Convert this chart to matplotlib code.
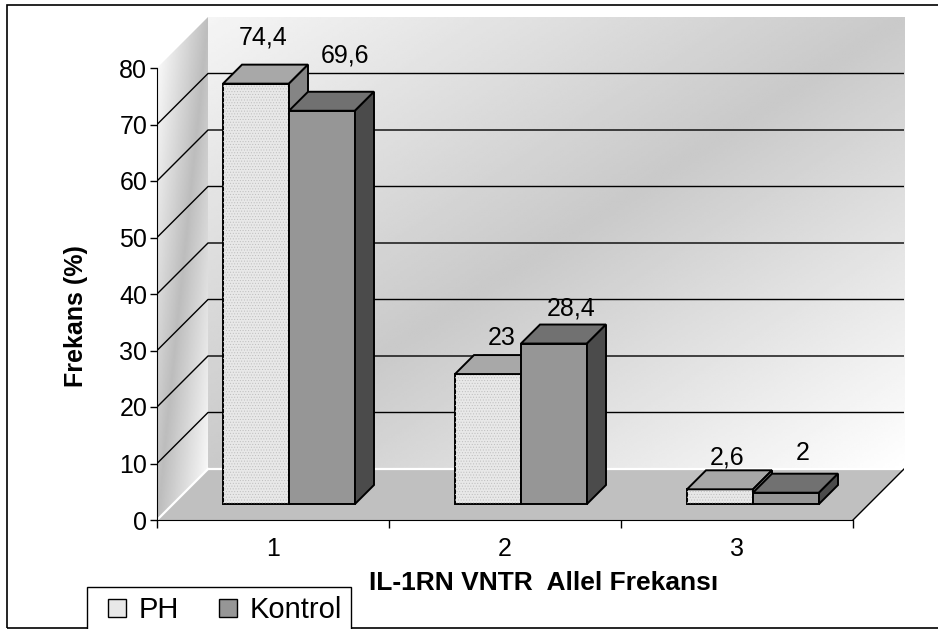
import matplotlib.pyplot as plt
import numpy as np
from matplotlib.patches import Polygon, Rectangle
from matplotlib.lines import Line2D

plt.rcParams['font.family'] = ['Liberation Sans', 'DejaVu Sans']
plt.rcParams['hatch.linewidth'] = 0.4

categories = ['1', '2', '3']
series_names = ['PH', 'Kontrol']
ph = [74.4, 23, 2.6]
kontrol = [69.6, 28.4, 2]
y_ticks = [0, 10, 20, 30, 40, 50, 60, 70, 80]

# oblique 3D look: depth offset of the back wall, in data units
XPX = 232.0            # pixels per category
YPX = 452.0 / 80       # pixels per percent
DX = 51 / XPX
DY = 51 / YPX
Z0, Z1 = 16 / 51, 35 / 51   # depth slice occupied by the bars
W = 66 / XPX                # bar width

front_cols = ['#e8e8e8', '#969696']
top_cols = ['#a8a8a8', '#717171']
side_cols = ['#858585', '#4b4b4b']

# value label placement above each bar top (pixels, per series)
label_dx = [[-2, 4, -2], [13, 8, 7]]
label_dy = [[37, 27, 22], [46, 26, 30]]


def proj(x, y, z):
    return (x + z * DX, y + z * DY)


def wall_gradient(nu, nw, corner, mid, far):
    u = np.linspace(0, 1, nu)[None, :]
    w = np.linspace(0, 1, nw)[:, None]
    s = u + w
    return np.where(s < 1, corner + (mid - corner) * s, mid + (far - mid) * (s - 1))


fig = plt.figure(figsize=(9.38, 6.29), dpi=100)
ax = fig.add_axes([157 / 938, 109 / 629,
                   (3 + DX) * XPX / 938, (80 + DY) * YPX / 629])
ax.patch.set_visible(False)

# back wall and side wall with a diagonal grey gradient
ax.imshow(wall_gradient(300, 200, 0.96, 0.79, 1.0), cmap='gray', vmin=0, vmax=1,
          extent=[DX, 3 + DX, DY, 80 + DY], origin='upper', aspect='auto',
          interpolation='bilinear', zorder=0)
side = Polygon([proj(0, 0, 0), proj(0, 0, 1), proj(0, 80, 1), proj(0, 80, 0)],
               closed=True, transform=ax.transData)
side_img = ax.imshow(wall_gradient(40, 200, 1.0, 0.74, 1.0), cmap='gray', vmin=0, vmax=1,
                     extent=[0, DX, 0, 80 + DY], origin='upper', aspect='auto',
                     interpolation='bilinear', zorder=0)
side_img.set_clip_path(side)

# floor
floor = [proj(0, 0, 0), proj(3, 0, 0), proj(3, 0, 1), proj(0, 0, 1)]
ax.add_patch(Polygon(floor, closed=True, facecolor='#c0c0c0', edgecolor='none', zorder=1))
for a, b in [(proj(0, 0, 0), proj(0, 0, 1)), (proj(0, 0, 1), proj(3, 0, 1))]:
    ax.plot([a[0], b[0]], [a[1], b[1]], color='white', lw=1.6, zorder=2)
a, b = proj(3, 0, 0), proj(3, 0, 1)
ax.plot([a[0], b[0]], [a[1], b[1]], color='black', lw=1, zorder=2)

# gridlines across side and back walls
for v in y_ticks[1:-1]:
    pts = [proj(0, v, 0), proj(0, v, 1), proj(3, v, 1)]
    ax.plot([p[0] for p in pts], [p[1] for p in pts], color='black', lw=1, zorder=2)

# bars: front faces through ax.bar, tops and sides as polygons
for i, vals in enumerate([ph, kontrol]):
    z = 3 + i
    lefts = np.arange(len(vals)) + 0.5 - W + i * W
    ax.bar(lefts + Z0 * DX, vals, width=W, bottom=Z0 * DY, align='edge',
           color=front_cols[i], edgecolor='black', linewidth=1.4, zorder=z)
    if i == 0:
        ax.bar(lefts + Z0 * DX, vals, width=W, bottom=Z0 * DY, align='edge',
               fill=False, hatch='......', edgecolor='#bdbdbd', linewidth=0, zorder=z)
    for j, (xl, v) in enumerate(zip(lefts, vals)):
        xr = xl + W
        top = [proj(xl, v, Z0), proj(xr, v, Z0), proj(xr, v, Z1), proj(xl, v, Z1)]
        sd = [proj(xr, 0, Z0), proj(xr, 0, Z1), proj(xr, v, Z1), proj(xr, v, Z0)]
        ax.add_patch(Polygon(top, closed=True, facecolor=top_cols[i],
                             edgecolor='black', linewidth=1.4, zorder=z))
        ax.add_patch(Polygon(sd, closed=True, facecolor=side_cols[i],
                             edgecolor='black', linewidth=1.4, zorder=z))
        label = f'{v:g}'.replace('.', ',')
        ax.annotate(label, xy=proj((xl + xr) / 2, v, (Z0 + Z1) / 2),
                    xytext=(label_dx[i][j] * 0.72, label_dy[i][j] * 0.72),
                    textcoords='offset points', ha='center', va='center',
                    fontsize=18, zorder=6)

ax.set_xlim(0, 3 + DX)
ax.set_ylim(0, 80 + DY)
for s in ['top', 'right']:
    ax.spines[s].set_visible(False)
ax.spines['left'].set_bounds(0, 80)
ax.spines['bottom'].set_bounds(0, 3)
ax.spines['left'].set_zorder(2)
ax.spines['bottom'].set_zorder(2)

ax.set_yticks(y_ticks)
ax.tick_params(axis='y', length=5, width=1, pad=2, labelsize=18)
ax.set_xticks([0, 1, 2, 3])
ax.set_xticklabels([''] * 4)
ax.set_xticks([0.5, 1.5, 2.5], minor=True)
ax.set_xticklabels(categories, minor=True)
ax.tick_params(axis='x', which='major', length=6, width=1)
ax.tick_params(axis='x', which='minor', length=0, pad=12, labelsize=18)

fig.text(76 / 938, 1 - 316 / 629, 'Frekans (%)', rotation=90, ha='center', va='center',
         fontsize=18, fontweight='bold')
fig.text(544 / 938, 1 - 590 / 629, 'IL-1RN VNTR  Allel Frekansı', ha='center',
         va='baseline', fontsize=19, fontweight='bold')

handles = [Line2D([], [], linestyle='none', marker='s', markersize=13,
                  markerfacecolor=c, markeredgecolor='black', markeredgewidth=1)
           for c in front_cols]
leg = fig.legend(handles, series_names, loc='upper left',
                 bbox_to_anchor=(87 / 938, 1 - 587 / 629), ncol=2, fontsize=21,
                 frameon=True, fancybox=False, edgecolor='black', framealpha=1,
                 borderpad=0.3, handlelength=1.47, handletextpad=0.0,
                 columnspacing=0.95, borderaxespad=0)
leg.get_frame().set_linewidth(1)

# outer frame
fig.add_artist(Rectangle((7 / 938, 1 / 629), 1, 623 / 629, transform=fig.transFigure,
                         fill=False, edgecolor='black', linewidth=1.2))

fig.savefig('out.png', dpi=100)
